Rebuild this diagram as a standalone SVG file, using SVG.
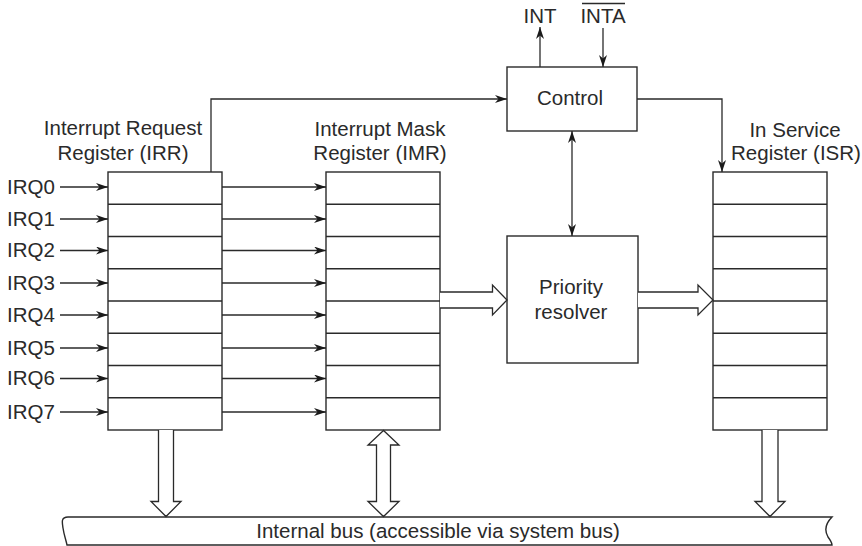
<svg xmlns="http://www.w3.org/2000/svg" width="862" height="546" viewBox="0 0 862 546">
<defs>
<style>
.box{fill:#fff;stroke:#2a2a2a;stroke-width:1.4}
.ln{fill:none;stroke:#2a2a2a;stroke-width:1.3}
.hol{fill:#fff;stroke:#2a2a2a;stroke-width:1.3;stroke-linejoin:miter}
.t{font-family:"Liberation Sans",Arial,sans-serif;font-size:20.5px;fill:#2a2a2a}
.c{text-anchor:middle}
</style>
<marker id="ah" viewBox="0 0 12 8" refX="12" refY="4" markerWidth="12" markerHeight="8" markerUnits="userSpaceOnUse" orient="auto-start-reverse">
<path d="M0,0 L12,4 L0,8 L3.5,4 z" fill="#1a1a1a"/>
</marker>
</defs>
<rect width="862" height="546" fill="#fff"/>

<g id="irr">
<rect class="box" x="108" y="172" width="114" height="258"/>
<path class="ln" d="M108 204.25H222M108 236.5H222M108 268.75H222M108 301H222M108 333.25H222M108 365.5H222M108 397.75H222"/>
<text class="t c" x="123" y="135">Interrupt Request</text>
<text class="t c" x="123" y="160">Register (IRR)</text>
</g>

<g id="imr">
<rect class="box" x="326" y="172" width="114" height="258"/>
<path class="ln" d="M326 204.25H440M326 236.5H440M326 268.75H440M326 301H440M326 333.25H440M326 365.5H440M326 397.75H440"/>
<text class="t c" x="380" y="136">Interrupt Mask</text>
<text class="t c" x="380" y="160">Register (IMR)</text>
</g>

<g id="isr">
<rect class="box" x="713" y="172" width="114" height="258"/>
<path class="ln" d="M713 204.25H827M713 236.5H827M713 268.75H827M713 301H827M713 333.25H827M713 365.5H827M713 397.75H827"/>
<text class="t c" x="795" y="137">In Service</text>
<text class="t c" x="796" y="160">Register (ISR)</text>
</g>

<g id="control">
<rect class="box" x="507" y="67" width="130" height="64"/>
<text class="t c" x="570" y="105">Control</text>
</g>

<g id="priority">
<rect class="box" x="507" y="236" width="131" height="127"/>
<text class="t c" x="571" y="294">Priority</text>
<text class="t c" x="571" y="319">resolver</text>
</g>

<g id="signals">
<text class="t c" x="540" y="23">INT</text>
<text class="t c" x="603" y="23">INTA</text>
<line class="ln" x1="582" y1="3.5" x2="625" y2="3.5"/>
</g>

<g id="irq-labels">
<text class="t" x="7" y="194">IRQ0</text>
<text class="t" x="7" y="226">IRQ1</text>
<text class="t" x="7" y="257">IRQ2</text>
<text class="t" x="7" y="290">IRQ3</text>
<text class="t" x="7" y="322">IRQ4</text>
<text class="t" x="7" y="355">IRQ5</text>
<text class="t" x="7" y="385">IRQ6</text>
<text class="t" x="7" y="419">IRQ7</text>
</g>

<g id="bus">
<path class="box" d="M68 517 H832 C826 523 824 530 828 537 C831 541 832 543 832 545 H67 C66 540 64 535 63 528 C62 522 61 517 68 517 Z"/>
<text class="t c" x="438" y="538">Internal bus (accessible via system bus)</text>
</g>

<g id="connectors">
<path class="ln" marker-end="url(#ah)" d="M60 187H108"/>
<path class="ln" marker-end="url(#ah)" d="M60 219H108"/>
<path class="ln" marker-end="url(#ah)" d="M60 250.5H108"/>
<path class="ln" marker-end="url(#ah)" d="M60 283H108"/>
<path class="ln" marker-end="url(#ah)" d="M60 315H108"/>
<path class="ln" marker-end="url(#ah)" d="M60 348H108"/>
<path class="ln" marker-end="url(#ah)" d="M60 378.5H108"/>
<path class="ln" marker-end="url(#ah)" d="M60 412H108"/>
<path class="ln" marker-end="url(#ah)" d="M222 187H326"/>
<path class="ln" marker-end="url(#ah)" d="M222 219H326"/>
<path class="ln" marker-end="url(#ah)" d="M222 250.5H326"/>
<path class="ln" marker-end="url(#ah)" d="M222 283H326"/>
<path class="ln" marker-end="url(#ah)" d="M222 315H326"/>
<path class="ln" marker-end="url(#ah)" d="M222 348H326"/>
<path class="ln" marker-end="url(#ah)" d="M222 378.5H326"/>
<path class="ln" marker-end="url(#ah)" d="M222 412H326"/>
<path class="ln" marker-end="url(#ah)" d="M211 172V99H507"/>
<path class="ln" marker-end="url(#ah)" d="M637 99H722V172"/>
<path class="ln" marker-end="url(#ah)" d="M540 67V27"/>
<path class="ln" marker-end="url(#ah)" d="M603 28V67"/>
<path class="ln" marker-start="url(#ah)" marker-end="url(#ah)" d="M572 131V236"/>
<path class="hol" d="M440 292H492.5V285L507 300L492.5 315V308H440"/>
<path class="hol" d="M638 292H698V285L713 300L698 315V308H638"/>
<path class="hol" d="M158.5 430V501.5H151L166 516.5L181 501.5H173.5V430"/>
<path class="hol" d="M762 430V501.5H755L770 516.5L785 501.5H778V430"/>
<path class="hol" d="M383.5 430.5L368 445H376.5V501.5H368L383.5 516.5L399 501.5H390.5V445H399Z"/>
</g>
</svg>
